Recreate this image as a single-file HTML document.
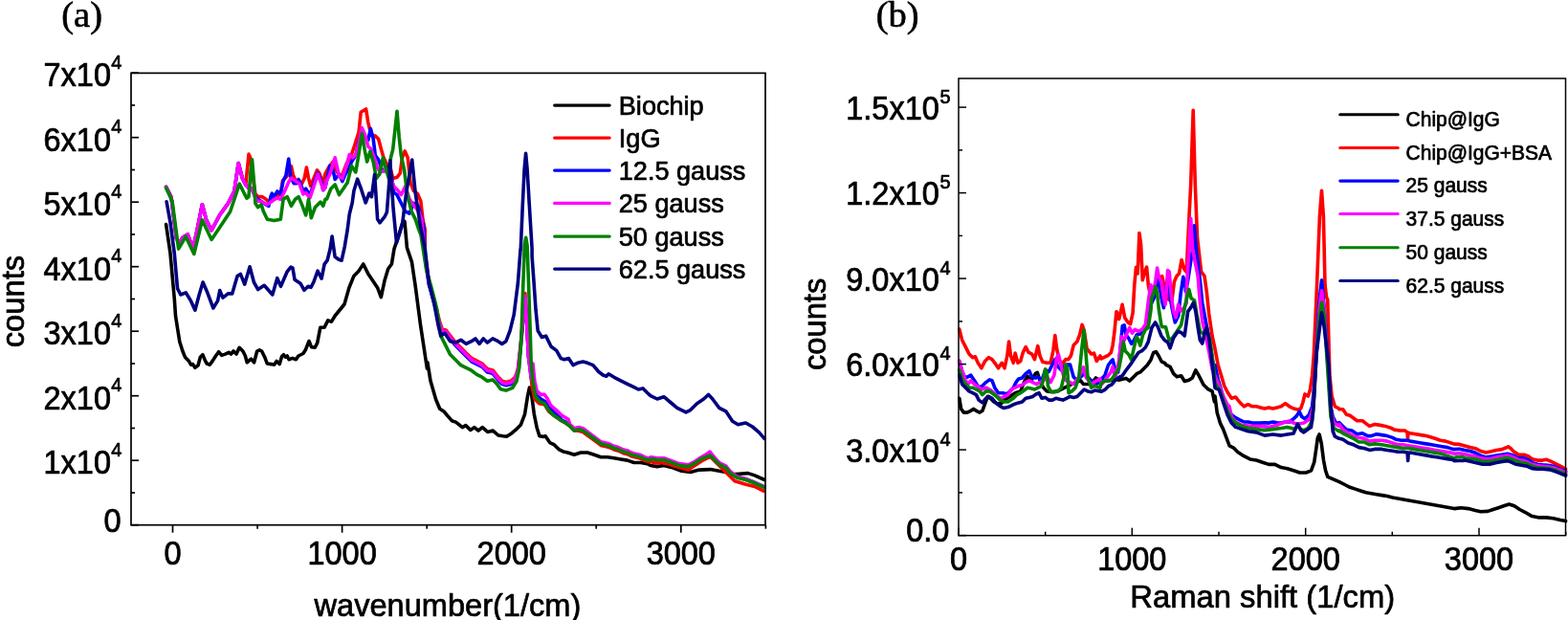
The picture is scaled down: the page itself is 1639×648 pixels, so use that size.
<!DOCTYPE html>
<html><head><meta charset="utf-8"><style>html,body{margin:0;padding:0;background:#fff;overflow:hidden}svg{display:block}</style></head>
<body><svg width="1639" height="648" viewBox="0 0 1639 648">
<rect width="1639" height="648" fill="#fff"/>
<polyline points="173.6,234.5 178.0,264.8 182.3,312.3 183.5,330.0 185.4,342.3 187.8,357.2 190.9,367.0 193.4,373.2 197.1,376.9 199.6,381.2 201.4,380.6 203.9,384.3 207.0,381.9 209.4,373.2 211.9,370.7 214.4,376.9 216.2,380.0 219.3,381.2 222.4,376.9 225.5,372.0 228.6,367.7 231.7,371.4 235.4,370.1 239.1,368.3 241.5,370.1 244.0,367.0 247.1,370.1 250.2,363.3 253.9,367.0 256.4,372.0 258.2,378.8 262.5,375.1 265.6,378.8 268.7,367.0 271.2,365.8 273.6,367.0 276.7,373.2 279.2,380.0 283.5,380.6 286.6,381.2 289.1,377.5 292.2,380.6 294.6,372.6 296.5,370.7 298.3,373.2 300.2,372.0 302.0,375.7 305.7,374.4 309.4,375.7 311.9,372.0 316.9,369.5 319.3,365.8 323.0,356.5 325.5,362.7 329.2,363.3 331.7,358.4 334.8,342.3 339.1,342.3 342.8,334.9 346.5,336.2 350.2,330.0 360.0,318.0 364.9,300.7 369.9,288.4 374.8,283.5 379.8,276.0 384.7,285.9 389.6,293.3 394.6,300.7 398.3,310.6 402.0,293.3 405.7,281.0 409.4,276.0 412.0,260.1 417.1,245.1 420.5,233.2 423.0,231.5 425.4,258.8 430.4,273.6 434.1,298.3 439.4,338.8 446.4,385.1 446.9,378.9 450.0,398.1 452.8,407.8 455.6,417.5 459.7,427.2 463.9,430.0 468.1,434.9 472.2,439.7 476.4,441.1 479.9,443.9 483.3,446.7 486.8,444.6 491.7,449.4 495.8,446.7 500.0,450.1 504.2,446.7 509.7,451.5 515.3,450.1 520.8,455.0 525.7,455.7 529.9,456.1 534.7,452.9 538.9,449.4 544.4,443.9 548.6,432.8 551.4,414.7 553.5,405.0 555.6,411.9 558.3,432.8 561.1,446.7 563.9,455.7 568.1,456.4 570.1,455.7 574.7,462.6 579.4,464.9 584.0,469.6 588.6,471.9 593.3,473.0 600.2,475.3 607.1,473.0 614.1,473.0 621.0,475.3 628.0,477.7 634.9,477.7 641.9,478.8 648.8,480.0 655.8,481.1 662.7,483.5 669.7,483.5 676.6,484.6 680.0,486.5 686.9,487.6 693.9,486.5 699.8,488.1 703.1,488.8 712.4,492.3 721.7,493.4 730.9,491.1 742.5,490.6 751.8,492.3 758.7,493.4 765.6,495.7 772.6,495.3 781.9,494.6 788.8,496.9 799.2,501.5" stroke="#000000" stroke-width="3.6" fill="none" stroke-linejoin="round" stroke-linecap="round"/>
<polyline points="173.6,195.3 179.0,206.1 184.4,249.3 187.7,253.6 190.9,248.3 196.3,245.0 201.7,260.1 206.0,240.7 211.4,213.7 215.7,229.9 221.1,240.7 229.8,224.5 238.4,212.6 244.9,199.7 249.2,170.5 253.5,186.7 256.8,193.2 260.0,161.1 260.0,161.9 261.4,163.9 264.2,184.7 266.9,202.8 269.7,205.6 273.9,205.6 278.1,208.3 280.8,211.1 285.0,206.9 289.2,205.6 293.3,202.8 295.4,188.9 298.2,186.1 301.7,181.9 304.4,173.6 306.5,183.3 308.6,187.5 311.4,190.3 315.6,191.7 318.3,186.1 320.4,175.0 322.5,186.1 324.6,194.4 328.1,186.1 331.5,177.8 334.3,181.9 337.1,191.7 339.9,181.9 343.8,174.5 348.1,169.1 352.4,179.9 356.7,185.3 362.1,171.3 366.4,164.8 370.7,151.8 375.1,137.8 377.2,117.3 382.6,114.0 384.8,128.1 388.0,141.0 392.3,142.1 395.6,145.3 398.8,157.2 401.0,164.8 404.2,171.3 407.5,173.4 410.7,186.4 415.0,185.3 418.3,181.0 420.4,164.8 423.2,157.9 426.2,164.8 429.0,190.7 432.3,199.3 436.6,202.6 439.8,210.1 442.0,229.6 444.2,239.9 444.2,266.1 448.3,293.9 453.9,313.3 459.4,335.6 462.2,343.9 466.4,345.3 470.6,350.8 476.1,357.8 481.7,363.3 487.2,368.9 492.8,374.4 498.3,377.2 503.9,380.0 509.4,385.6 515.0,386.9 520.6,393.9 524.7,398.1 528.9,399.4 534.4,398.1 538.6,393.9 541.4,385.6 544.2,360.6 546.4,335.6 548.3,307.8 548.9,306.7 550.6,337.2 552.5,373.3 553.8,380.0 556.1,403.1 558.9,417.0 563.5,421.7 569.1,422.6 573.7,430.0 579.3,434.6 584.8,438.3 586.3,439.5 590.9,441.8 595.6,445.2 600.2,449.9 604.8,450.3 609.5,451.5 614.1,455.0 618.7,458.4 623.4,461.9 628.0,465.4 632.6,466.6 637.2,467.7 641.9,470.0 646.5,471.2 651.1,473.5 655.8,474.7 660.4,477.0 665.0,478.1 669.7,479.3 674.3,481.6 678.9,482.8 680.0,481.9 683.6,483.9 688.2,483.9 691.6,483.0 692.8,483.9 699.8,485.1 703.1,486.5 719.4,491.1 733.2,481.9 742.5,477.2 749.4,484.2 761.0,495.7 768.0,502.7 779.5,506.2 788.8,508.5 798.1,513.1" stroke="#ff0000" stroke-width="3.6" fill="none" stroke-linejoin="round" stroke-linecap="round"/>
<polyline points="173.6,195.3 179.0,206.1 184.4,249.3 187.7,253.6 190.9,248.3 196.3,245.0 201.7,260.1 206.0,240.7 211.4,213.7 215.7,229.9 221.1,240.7 229.8,224.5 238.4,212.6 244.9,199.7 249.2,170.5 253.5,186.7 256.8,193.2 261.1,196.4 261.4,195.8 264.2,198.6 266.9,205.6 269.7,208.3 273.9,211.1 278.1,213.9 280.8,215.3 282.9,205.6 284.3,202.1 286.4,205.6 289.9,200.0 293.3,202.8 296.1,188.9 298.9,183.3 301.7,166.0 303.8,184.7 307.2,191.7 310.0,191.7 312.1,187.5 314.2,191.7 316.9,200.0 319.7,197.2 323.9,204.2 328.1,191.7 332.2,180.6 335.7,188.9 337.8,198.6 339.9,195.8 341.6,188.5 344.8,173.4 348.1,177.7 350.2,187.5 354.5,182.1 357.8,189.6 361.0,182.1 364.3,176.7 367.5,169.1 371.8,162.6 375.1,147.5 378.3,138.9 381.5,145.3 384.8,146.4 387.4,134.5 390.2,145.3 392.3,162.6 395.6,166.9 399.9,178.8 403.1,178.8 406.4,173.4 409.6,186.4 411.8,201.5 415.0,203.6 419.3,212.3 423.6,220.9 428.0,223.1 432.3,212.3 436.6,214.4 439.8,224.2 443.1,238.2 444.2,269.4 448.3,297.2 453.9,316.7 459.4,338.9 462.2,347.2 466.4,348.6 470.6,354.2 476.1,361.1 481.7,366.7 487.2,372.2 492.8,377.8 498.3,380.6 503.9,383.3 509.4,388.9 515.0,390.3 520.6,397.2 524.7,401.4 528.9,402.8 534.4,401.4 538.6,397.2 541.4,388.9 544.2,363.9 546.4,338.9 548.3,311.1 549.2,313.6 550.6,337.2 552.5,373.3 555.3,395.6 556.1,380.0 556.2,393.2 558.0,398.5 560.7,413.3 565.4,417.0 570.0,419.8 574.6,426.3 580.2,431.9 585.7,436.5 586.3,438.5 590.9,440.8 595.6,444.3 600.2,449.0 604.8,447.8 609.5,449.0 614.1,452.4 618.7,455.9 623.4,459.4 628.0,462.8 632.6,464.0 637.2,465.2 641.9,467.5 646.5,468.6 651.1,470.9 655.8,472.1 660.4,474.4 665.0,475.6 669.7,476.7 674.3,479.1 678.9,480.2 680.0,478.8 686.9,480.0 693.9,480.0 700.8,482.3 710.1,485.8 719.4,486.9 726.3,483.5 733.2,478.8 739.0,476.5 742.5,475.4 747.1,480.0 751.8,484.6 758.7,488.1 763.3,493.9 770.3,498.5 779.5,500.8 788.8,504.3 799.2,508.9" stroke="#0000ff" stroke-width="3.6" fill="none" stroke-linejoin="round" stroke-linecap="round"/>
<polyline points="173.6,195.3 179.0,206.1 184.4,249.3 187.7,253.6 190.9,248.3 196.3,245.0 201.7,260.1 206.0,240.7 211.4,213.7 215.7,229.9 221.1,240.7 229.8,224.5 238.4,212.6 244.9,199.7 249.2,170.5 253.5,186.7 256.8,193.2 261.1,198.6 261.4,195.8 264.2,200.0 268.3,209.7 273.9,211.1 279.4,213.9 285.0,209.7 289.2,206.9 293.3,208.3 297.5,200.0 301.7,190.3 304.4,186.1 308.6,188.9 312.8,191.7 316.9,202.8 319.7,201.4 323.9,206.9 328.1,194.4 332.2,181.9 335.7,191.7 337.8,198.6 339.9,195.8 341.6,188.5 344.8,182.1 350.2,164.8 354.5,184.2 357.8,186.4 362.1,173.4 365.3,161.5 368.6,164.8 371.8,162.6 375.1,149.7 378.3,133.5 381.5,141.0 384.8,152.9 388.0,156.1 391.3,164.8 394.5,175.6 397.7,179.9 403.1,177.7 408.5,186.4 411.8,195.0 416.1,199.3 419.3,203.6 423.6,195.0 428.0,208.0 432.3,214.4 437.7,220.9 440.9,229.6 444.2,267.8 448.3,295.6 453.9,315.0 459.4,337.2 462.2,345.6 466.4,346.9 470.6,352.5 476.1,359.4 481.7,365.0 487.2,370.6 492.8,376.1 498.3,378.9 503.9,381.7 509.4,387.2 515.0,388.6 520.6,395.6 524.7,399.7 528.9,401.1 534.4,399.7 538.6,395.6 541.4,387.2 544.2,362.2 546.4,337.2 548.3,309.4 549.2,312.2 550.6,337.2 552.5,373.3 555.3,395.6 556.2,393.2 557.0,380.0 558.9,398.5 561.2,408.7 565.4,412.4 569.1,412.4 571.9,416.1 575.6,423.5 582.0,429.1 586.7,433.7 594.1,438.3 595.6,443.2 600.2,447.8 604.8,446.6 609.5,447.8 614.1,451.3 618.7,454.7 623.4,458.2 628.0,461.7 632.6,462.8 637.2,464.0 641.9,466.3 646.5,467.5 651.1,469.8 655.8,470.9 660.4,473.3 665.0,474.4 669.7,475.6 674.3,477.9 678.9,479.1 680.0,477.7 686.9,478.8 693.9,478.8 700.8,481.2 710.1,484.6 719.4,485.8 726.3,482.3 733.2,477.7 739.0,474.4 742.0,472.1 747.1,478.4 751.8,483.5 758.7,486.9 763.3,492.7 770.3,498.1 779.5,500.4 788.8,504.3 799.2,509.2" stroke="#ff00ff" stroke-width="3.6" fill="none" stroke-linejoin="round" stroke-linecap="round"/>
<polyline points="173.6,196.4 180.1,210.5 186.6,260.1 194.2,247.2 202.8,265.5 211.4,229.9 221.1,250.4 229.8,237.5 240.6,221.3 250.3,192.1 257.9,207.2 260.0,205.6 262.1,177.8 263.5,166.7 265.6,191.7 266.9,212.5 269.7,216.7 273.2,213.9 275.3,220.8 279.4,229.2 286.4,230.6 293.3,229.2 296.1,208.3 300.3,205.6 304.4,215.3 308.6,208.3 312.1,205.6 315.6,213.9 319.7,225.0 322.5,208.3 325.3,227.8 329.4,216.7 335.0,211.1 337.8,215.3 340.0,208.3 341.6,208.0 345.9,197.2 350.2,192.9 354.5,203.6 358.9,197.2 363.2,190.7 367.5,173.4 371.8,179.9 375.1,160.5 378.3,139.9 381.5,158.3 383.7,169.1 386.9,158.3 390.2,169.1 393.4,186.4 396.7,182.1 400.3,164.8 403.1,175.6 406.4,186.4 408.5,164.8 410.7,156.1 415.0,116.2 417.2,143.2 419.3,162.6 422.6,177.7 425.8,203.6 430.1,220.9 434.4,229.6 437.7,239.9 440.0,245.6 445.6,281.7 451.1,301.1 456.7,323.3 460.8,351.1 465.0,359.4 470.6,370.6 476.1,376.1 481.7,381.7 487.2,384.4 492.8,387.2 498.3,391.4 503.9,394.2 509.4,398.3 515.0,396.9 519.2,401.1 523.3,406.7 528.9,408.1 535.8,405.3 540.0,398.3 542.8,384.4 545.0,351.1 546.9,295.6 548.3,256.7 549.7,248.3 551.1,256.7 552.5,295.6 554.4,351.1 555.2,380.0 557.0,398.5 559.8,414.3 564.4,419.8 569.1,421.7 573.7,429.1 578.3,433.7 583.9,437.4 586.3,439.5 590.9,441.8 595.6,445.2 600.2,449.9 604.8,448.7 609.5,449.9 614.1,453.4 618.7,456.8 623.4,460.3 628.0,463.8 632.6,464.9 637.2,466.1 641.9,468.4 646.5,469.6 651.1,471.9 655.8,473.0 660.4,475.3 665.0,476.5 669.7,477.7 674.3,480.0 678.9,481.1 680.0,479.5 686.9,480.7 693.9,480.7 700.8,483.0 710.1,486.5 719.4,487.6 726.3,484.2 733.2,479.5 739.0,477.2 742.5,476.1 747.1,480.7 751.8,485.3 758.7,488.8 763.3,494.6 770.3,499.2 779.5,501.5 788.8,505.0 799.2,509.6" stroke="#008000" stroke-width="3.6" fill="none" stroke-linejoin="round" stroke-linecap="round"/>
<polyline points="174.1,210.8 178.0,232.4 182.3,264.8 185.5,301.5 188.8,308.0 194.2,305.8 199.5,314.4 203.9,324.2 208.2,308.0 212.1,295.0 216.8,305.8 222.9,322.0 227.6,314.4 229.8,303.6 233.0,311.2 238.4,306.9 242.7,306.9 248.1,288.5 251.4,286.4 255.7,297.2 261.1,278.8 265.4,295.0 269.7,302.6 276.2,298.3 284.8,308.0 289.8,290.7 293.5,299.3 300.0,284.2 300.0,284.2 304.0,279.2 306.0,280.2 308.0,292.2 311.0,294.2 314.0,296.2 318.0,303.3 322.1,299.2 325.1,300.3 328.1,294.2 332.1,283.2 336.1,291.2 339.1,276.2 342.1,272.2 345.1,260.2 347.1,247.1 350.1,268.2 354.1,271.2 357.1,272.2 360.2,258.1 363.2,240.1 365.2,224.1 368.2,212.0 369.9,199.5 373.6,187.2 377.3,197.0 382.2,211.9 385.9,202.0 388.4,205.7 391.6,182.2 394.6,229.1 397.0,232.8 402.0,226.7 404.4,221.7 406.9,189.6 407.7,167.8 411.1,218.0 414.5,253.6 420.5,234.9 424.7,201.0 430.7,167.0 434.1,201.0 439.2,234.9 444.3,260.1 448.3,295.6 453.9,317.8 458.1,340.0 460.8,351.1 465.0,348.3 470.6,356.7 476.1,358.1 481.7,355.3 487.2,359.4 492.8,356.7 496.9,353.9 501.1,359.4 505.3,353.9 509.4,358.1 515.0,353.9 520.6,356.7 524.7,359.4 528.9,356.7 533.1,345.6 537.2,328.9 541.4,295.6 544.1,260.0 544.2,262.2 546.3,214.1 548.1,177.0 549.6,160.4 551.1,177.0 553.3,214.1 556.1,260.0 556.1,267.8 558.1,295.6 560.0,323.3 562.2,345.6 566.4,352.5 570.6,351.1 576.1,362.2 581.7,366.4 586.3,374.6 589.8,375.8 594.4,374.6 599.0,381.6 603.7,379.3 609.5,378.1 614.1,379.3 619.9,381.6 625.7,388.5 630.3,392.0 633.8,393.2 636.1,390.8 641.9,394.3 648.8,397.8 655.8,401.3 662.7,404.7 667.3,407.0 672.0,405.9 676.6,410.5 680.0,413.6 686.9,417.0 693.9,414.7 700.8,420.5 707.8,426.3 717.0,430.9 721.7,428.6 728.6,421.7 735.6,417.0 740.6,412.4 744.8,417.0 751.8,426.3 758.7,429.8 765.6,440.2 771.4,443.7 779.5,442.0 786.5,446.0 793.4,451.8 799.2,458.7" stroke="#000080" stroke-width="3.6" fill="none" stroke-linejoin="round" stroke-linecap="round"/>
<polyline points="1002.8,416.3 1004.6,427.4 1007.4,431.1 1011.1,431.1 1014.8,429.3 1017.6,427.4 1020.4,429.3 1024.1,431.1 1026.9,429.3 1029.6,421.9 1032.4,414.4 1035.2,416.3 1038.9,420.0 1042.6,421.9 1046.3,421.9 1050.0,418.1 1055.6,414.4 1061.1,410.7 1066.7,408.9 1070.4,399.6 1074.1,393.1 1077.8,397.8 1082.4,390.4 1084.3,389.4 1087.0,397.8 1090.7,405.2 1094.4,408.9 1100.0,409.8 1105.6,408.9 1109.3,407.0 1113.0,405.2 1116.7,403.3 1120.4,401.5 1124.1,399.6 1129.6,397.8 1132.4,401.5 1135.2,401.5 1140.7,401.5 1145.4,395.0 1150.0,397.8 1151.1,398.1 1154.8,397.2 1158.5,398.1 1162.2,397.2 1165.9,396.3 1169.6,397.2 1173.3,396.3 1177.0,395.4 1180.7,398.1 1184.4,394.4 1188.1,390.7 1191.9,388.9 1195.6,385.2 1199.3,381.5 1203.0,375.9 1205.7,368.5 1208.5,367.6 1211.3,372.2 1214.1,377.8 1217.8,379.6 1218.5,381.1 1223.1,383.4 1226.6,390.4 1230.1,393.8 1234.7,392.7 1238.2,398.5 1242.8,397.3 1246.3,395.0 1249.8,386.9 1253.2,392.7 1257.9,401.9 1262.5,406.6 1267.1,408.9 1269.4,420.0 1270.0,414.0 1272.2,431.3 1275.4,442.1 1278.6,448.6 1281.9,457.3 1285.1,465.9 1289.5,468.1 1293.8,472.4 1300.3,476.7 1306.7,479.9 1313.2,481.0 1319.7,483.2 1326.2,485.4 1332.7,485.4 1339.2,488.6 1345.6,489.7 1352.1,491.8 1358.6,494.0 1365.1,494.0 1370.5,491.8 1373.7,483.2 1375.9,468.1 1377.4,457.3 1379.1,454.0 1381.3,463.7 1383.5,481.0 1385.6,491.8 1387.8,498.3 1400.0,503.7 1405.6,506.5 1411.1,509.3 1416.7,511.1 1422.2,513.0 1427.8,514.8 1433.3,515.7 1438.9,516.7 1444.4,517.6 1450.0,518.5 1455.6,520.0 1520.0,531.6 1527.4,530.7 1534.8,531.6 1542.2,533.5 1547.8,534.8 1555.2,534.4 1560.7,532.5 1566.3,530.7 1571.8,528.8 1577.4,527.0 1582.9,528.8 1588.5,532.5 1594.0,535.3 1601.4,539.6 1608.8,540.9 1616.2,540.9 1623.6,541.8 1631.0,543.6 1636.6,544.6" stroke="#000000" stroke-width="3.6" fill="none" stroke-linejoin="round" stroke-linecap="round"/>
<polyline points="1002.8,344.1 1005.6,355.2 1009.3,362.6 1013.0,370.0 1016.7,373.7 1019.4,372.8 1022.2,379.3 1025.9,384.8 1029.6,377.4 1033.3,373.7 1037.0,375.6 1039.8,379.3 1043.5,384.8 1047.2,379.3 1050.0,384.8 1052.8,371.9 1054.6,357.0 1056.5,371.9 1059.3,379.3 1061.1,369.1 1063.9,379.3 1066.7,377.4 1069.4,368.1 1072.2,362.6 1075.0,368.1 1078.7,370.0 1081.5,375.6 1084.8,361.7 1087.0,371.9 1089.8,378.3 1094.4,379.3 1098.1,379.3 1100.9,366.3 1102.8,350.6 1104.6,364.4 1107.4,377.4 1111.1,379.3 1113.9,375.6 1116.7,375.6 1119.4,371.9 1122.2,360.7 1125.9,357.0 1128.7,349.6 1131.1,339.4 1133.3,345.9 1136.1,364.4 1140.7,370.0 1143.5,369.1 1146.3,377.4 1150.0,371.9 1151.1,375.0 1154.8,373.1 1158.5,371.3 1161.3,368.5 1163.1,361.1 1165.0,346.3 1166.9,325.9 1167.2,325.9 1169.7,333.6 1173.1,318.3 1175.7,331.9 1179.0,337.0 1181.6,338.7 1184.1,326.8 1185.8,297.9 1187.5,279.2 1189.2,286.0 1190.9,243.6 1192.6,255.5 1194.3,292.8 1196.0,286.0 1198.6,279.2 1200.3,297.9 1202.0,306.4 1204.5,314.9 1207.9,304.7 1211.3,294.5 1214.7,288.6 1218.1,303.0 1221.5,313.2 1224.9,314.9 1227.4,294.5 1230.0,288.6 1232.5,286.0 1235.1,271.6 1237.6,280.9 1240.2,284.3 1241.6,254.4 1244.7,192.7 1247.2,115.4 1249.3,192.7 1251.5,248.3 1255.6,283.9 1259.0,288.5 1261.3,304.7 1263.7,327.9 1267.1,351.0 1270.0,364.3 1273.2,381.6 1276.5,392.4 1279.7,403.2 1283.0,409.7 1287.3,416.2 1291.6,415.1 1295.9,420.5 1300.3,424.8 1304.6,422.7 1308.9,424.8 1313.2,424.8 1317.5,425.9 1321.9,427.0 1326.2,425.9 1330.5,427.0 1334.8,425.9 1339.2,424.8 1343.5,421.6 1347.8,424.8 1352.1,427.0 1356.4,428.1 1359.7,427.0 1361.9,420.5 1364.0,411.9 1367.3,414.0 1369.4,407.5 1371.6,392.4 1373.3,370.8 1376.3,303.7 1379.4,226.4 1381.5,199.2 1383.4,226.4 1385.0,297.5 1386.5,310.5 1387.7,313.0 1389.9,392.4 1392.1,414.0 1395.4,424.8 1399.7,427.0 1400.0,427.8 1403.7,427.8 1407.4,433.3 1411.1,434.3 1414.8,437.0 1418.5,439.8 1424.1,439.8 1427.8,442.6 1431.5,445.4 1437.0,443.5 1442.6,444.4 1448.1,445.4 1453.7,447.2 1457.4,449.1 1463.0,450.0 1468.5,450.0 1471.1,451.9 1471.5,458.9 1471.9,452.2 1474.1,452.8 1479.6,453.7 1485.2,454.6 1490.7,455.6 1494.4,456.5 1500.0,458.3 1505.6,460.2 1511.1,461.1 1516.7,463.0 1520.0,464.1 1525.6,464.4 1531.1,465.9 1536.7,467.4 1542.2,468.7 1547.8,471.5 1553.3,472.9 1558.9,471.8 1564.4,470.5 1570.0,469.6 1574.6,467.8 1576.5,466.8 1579.2,468.7 1582.9,472.4 1587.6,475.2 1593.1,475.2 1597.7,477.0 1601.4,479.8 1607.0,481.1 1612.5,481.1 1616.2,480.3 1619.9,481.6 1625.5,484.4 1631.0,487.2 1636.6,490.0" stroke="#ff0000" stroke-width="3.6" fill="none" stroke-linejoin="round" stroke-linecap="round"/>
<polyline points="1002.8,377.4 1005.6,388.5 1008.3,394.1 1011.1,394.1 1014.8,392.2 1018.5,397.8 1023.1,405.2 1026.9,403.3 1030.6,399.6 1034.3,396.9 1037.0,397.8 1039.8,405.2 1043.5,410.7 1048.1,410.7 1052.8,411.7 1055.6,408.9 1059.3,405.2 1062.0,399.6 1064.8,395.9 1068.5,395.0 1072.2,390.4 1075.9,387.6 1078.7,394.1 1082.4,395.0 1085.2,394.1 1088.9,397.8 1092.6,386.7 1096.3,388.5 1100.0,381.1 1102.8,375.6 1105.6,383.0 1109.3,386.7 1112.0,383.0 1114.8,381.1 1118.5,381.1 1122.2,394.1 1125.9,397.8 1129.6,394.1 1133.3,390.4 1137.0,394.1 1140.7,397.8 1144.4,401.5 1150.0,399.6 1151.1,396.3 1154.8,392.6 1158.5,381.5 1161.3,377.8 1163.1,375.9 1165.9,387.0 1168.7,388.9 1171.5,359.3 1173.3,340.7 1175.2,339.8 1177.0,350.0 1179.8,353.7 1182.6,359.3 1185.4,355.6 1188.1,350.0 1191.9,349.1 1195.6,344.4 1199.3,337.0 1203.0,318.5 1204.5,314.9 1207.1,309.8 1209.6,284.3 1211.3,294.5 1214.7,314.9 1216.4,321.7 1219.8,294.5 1221.5,289.4 1223.2,311.5 1225.7,325.1 1228.3,337.0 1231.7,330.2 1234.2,306.4 1236.8,289.4 1239.3,301.3 1239.4,304.7 1241.7,293.1 1246.6,260.6 1248.4,235.9 1250.3,260.6 1254.4,293.1 1256.7,316.3 1260.2,334.8 1263.7,353.3 1267.1,374.2 1269.4,390.4 1270.0,381.6 1273.2,396.7 1276.5,407.5 1279.7,418.4 1283.0,427.0 1287.3,433.5 1291.6,436.7 1295.9,438.9 1300.3,441.0 1304.6,441.0 1308.9,442.1 1313.2,442.1 1317.5,442.1 1321.9,441.7 1326.2,442.1 1330.5,441.0 1334.8,441.7 1339.2,442.1 1343.5,441.0 1347.8,441.0 1352.1,437.8 1355.4,434.6 1358.2,430.2 1360.8,435.6 1364.0,437.8 1368.3,433.5 1371.6,424.8 1373.7,403.2 1375.9,370.8 1378.5,319.2 1381.5,292.9 1384.0,319.2 1389.3,392.4 1391.0,424.8 1393.2,435.6 1396.4,442.1 1399.7,442.1 1400.0,441.7 1403.7,445.4 1407.4,449.1 1413.0,450.0 1418.5,453.7 1424.1,452.8 1429.6,455.6 1433.3,455.6 1438.9,453.7 1444.4,454.6 1450.0,455.6 1455.6,457.4 1459.3,459.3 1464.8,460.2 1470.4,460.2 1474.1,461.1 1479.6,462.0 1485.2,463.0 1490.7,463.9 1496.3,464.8 1501.9,465.7 1507.4,466.7 1513.0,467.6 1518.5,469.4 1520.0,469.6 1525.6,469.2 1531.1,470.5 1536.7,471.5 1542.2,473.3 1547.8,476.1 1553.3,477.9 1558.9,477.0 1564.4,476.1 1570.0,475.2 1575.5,474.2 1579.2,475.2 1583.9,477.0 1587.6,478.9 1593.1,478.9 1597.7,480.7 1601.4,483.5 1607.0,485.3 1612.5,485.9 1618.1,486.3 1623.6,487.2 1629.2,489.6 1636.6,492.7" stroke="#0000ff" stroke-width="3.6" fill="none" stroke-linejoin="round" stroke-linecap="round"/>
<polyline points="1002.8,377.4 1005.6,386.7 1009.3,397.8 1012.0,401.5 1014.8,397.8 1018.5,401.5 1022.2,404.3 1025.9,407.0 1030.6,405.2 1034.3,407.0 1038.9,410.7 1042.6,414.4 1046.3,416.3 1050.0,414.4 1053.7,412.6 1057.4,407.0 1061.1,405.2 1064.8,403.3 1068.5,402.4 1072.2,399.6 1075.9,397.8 1079.6,399.6 1083.3,401.5 1087.0,399.6 1090.7,397.8 1094.4,394.1 1098.1,399.6 1101.9,392.2 1104.6,373.7 1106.5,370.9 1109.3,383.0 1112.0,394.1 1114.8,397.8 1118.5,399.6 1122.2,401.5 1127.8,394.1 1132.4,383.9 1135.2,394.1 1140.7,401.5 1146.3,397.8 1150.0,395.9 1151.1,401.9 1154.8,398.1 1158.5,392.6 1161.3,388.9 1163.1,383.3 1165.9,394.4 1169.6,377.8 1172.4,351.9 1175.2,355.6 1178.0,348.1 1180.7,342.6 1183.5,348.1 1186.3,344.4 1190.0,346.3 1193.7,344.4 1197.4,338.9 1200.3,314.9 1202.8,297.9 1205.4,306.4 1207.9,292.8 1209.6,280.1 1211.3,289.4 1213.9,294.5 1216.4,311.5 1218.1,318.3 1220.6,282.6 1222.3,284.3 1224.0,306.4 1226.6,325.1 1229.1,331.9 1231.7,318.3 1234.2,325.1 1237.6,321.7 1240.2,316.6 1240.5,297.8 1242.9,260.6 1244.7,228.2 1246.6,260.6 1252.1,288.5 1254.4,316.3 1256.7,334.8 1260.2,351.0 1263.7,367.2 1267.1,385.7 1270.0,392.4 1274.3,403.2 1278.6,414.0 1283.0,422.7 1285.1,424.8 1287.3,435.6 1291.6,441.0 1298.1,444.3 1306.7,445.4 1317.5,445.4 1326.2,446.4 1334.8,444.3 1343.5,441.0 1347.8,440.0 1352.1,442.1 1356.4,443.2 1362.9,442.1 1369.4,437.8 1372.7,424.8 1374.8,392.4 1379.1,322.3 1381.5,303.7 1384.0,322.3 1391.0,429.2 1394.3,442.1 1399.7,445.4 1400.0,443.5 1403.7,449.1 1409.3,452.8 1414.8,455.6 1420.4,457.4 1425.9,458.3 1431.5,461.1 1437.0,460.2 1444.4,460.2 1450.0,461.1 1455.6,463.0 1461.1,464.8 1466.7,464.8 1472.2,465.7 1477.8,466.7 1483.3,467.6 1488.9,468.5 1494.4,469.4 1500.0,470.4 1505.6,471.3 1511.1,472.2 1516.7,473.1 1520.0,474.2 1525.6,473.7 1531.1,474.8 1536.7,476.1 1542.2,477.0 1547.8,478.9 1553.3,479.8 1558.9,479.2 1564.4,477.9 1570.0,477.0 1575.5,476.1 1579.2,477.0 1583.9,478.9 1587.6,480.7 1593.1,481.6 1597.7,483.5 1601.4,485.3 1607.0,486.6 1612.5,487.2 1618.1,487.8 1623.6,488.7 1629.2,490.9 1636.6,493.7" stroke="#ff00ff" stroke-width="3.6" fill="none" stroke-linejoin="round" stroke-linecap="round"/>
<polyline points="1002.8,386.7 1005.6,395.9 1009.3,401.5 1013.0,405.2 1016.7,405.2 1020.4,407.0 1024.1,408.9 1026.9,412.6 1030.6,408.9 1034.3,408.9 1037.0,410.7 1040.7,413.5 1045.4,418.1 1050.0,420.0 1053.7,420.0 1059.3,416.3 1063.0,412.6 1066.7,410.7 1070.4,408.0 1074.1,405.2 1077.8,406.1 1081.5,407.0 1085.2,405.2 1088.9,403.3 1091.1,394.1 1092.6,385.7 1094.4,390.4 1095.4,403.3 1098.1,408.9 1101.9,409.8 1105.6,408.9 1109.3,405.2 1112.0,394.1 1113.9,381.1 1115.7,384.8 1117.0,410.7 1120.4,408.9 1124.1,405.2 1127.8,394.1 1130.6,366.3 1133.0,345.0 1134.8,366.3 1137.0,394.1 1140.7,405.2 1144.4,403.3 1150.0,405.2 1151.1,400.0 1154.8,398.1 1158.5,398.1 1162.2,396.3 1165.9,390.7 1169.6,385.2 1172.4,370.4 1174.3,357.4 1176.1,366.7 1179.8,370.4 1182.6,375.9 1185.4,363.0 1188.1,351.9 1190.0,355.6 1191.9,361.1 1194.6,350.0 1197.4,344.4 1200.2,342.6 1203.0,324.1 1203.7,311.5 1205.4,308.1 1207.9,299.6 1209.6,306.4 1211.3,323.4 1213.9,340.0 1215.0,341.8 1218.5,341.8 1222.0,355.6 1225.5,353.3 1230.1,346.4 1234.7,339.4 1239.4,316.3 1242.8,302.4 1245.1,311.7 1248.6,314.0 1250.9,327.9 1254.4,346.4 1257.9,348.7 1261.3,344.1 1264.8,355.6 1267.1,371.9 1269.4,392.7 1270.0,401.1 1274.3,406.5 1278.6,418.4 1283.0,429.2 1287.3,437.8 1291.6,442.1 1298.1,445.4 1304.6,447.5 1313.2,448.6 1321.9,449.7 1330.5,448.6 1339.2,447.5 1345.6,446.4 1350.0,447.5 1353.2,448.6 1356.4,444.3 1359.7,448.6 1362.9,449.7 1367.3,447.5 1371.6,440.0 1373.7,414.0 1375.9,370.8 1379.4,328.5 1381.5,316.1 1384.0,328.5 1391.0,435.6 1394.3,447.5 1399.7,450.8 1400.0,450.0 1403.7,452.8 1409.3,455.6 1414.8,458.3 1420.4,462.0 1425.9,462.0 1431.5,464.8 1437.0,463.9 1444.4,464.8 1450.0,465.7 1455.6,466.7 1461.1,467.6 1466.7,468.5 1472.2,468.5 1477.8,469.4 1483.3,470.4 1488.9,471.3 1494.4,472.2 1500.0,473.1 1505.6,474.1 1511.1,475.9 1516.7,477.8 1520.0,478.9 1522.2,477.8 1529.6,477.8 1531.1,478.9 1542.2,479.8 1549.6,482.2 1557.0,482.2 1564.4,480.7 1571.8,479.2 1575.5,478.5 1579.2,479.8 1584.8,481.6 1590.3,483.5 1595.9,484.4 1601.4,487.2 1607.0,488.5 1612.5,489.0 1619.9,489.6 1627.3,491.8 1636.6,495.5" stroke="#008000" stroke-width="3.6" fill="none" stroke-linejoin="round" stroke-linecap="round"/>
<polyline points="1002.8,392.2 1005.6,401.5 1009.3,405.2 1013.0,408.9 1016.7,410.7 1020.4,412.6 1023.1,418.1 1026.9,420.9 1030.6,416.3 1033.3,414.4 1037.0,416.3 1040.7,420.9 1045.4,424.6 1049.1,426.5 1053.7,425.6 1059.3,422.8 1064.8,420.9 1068.5,420.0 1072.2,416.3 1075.9,415.4 1079.6,414.4 1083.3,411.7 1086.1,410.7 1088.9,416.3 1092.6,415.4 1096.3,418.1 1100.0,418.1 1103.7,416.3 1107.4,417.2 1111.1,418.1 1114.8,416.3 1118.5,414.4 1122.2,415.4 1125.9,414.4 1129.6,410.7 1133.3,407.0 1137.0,408.9 1140.7,409.8 1144.4,408.0 1150.0,408.9 1151.1,409.3 1154.8,407.4 1158.5,403.7 1162.2,401.9 1165.9,397.2 1169.6,394.4 1173.3,392.6 1177.0,387.0 1179.8,383.3 1182.6,379.6 1186.3,374.1 1190.0,368.5 1193.7,366.7 1197.4,363.0 1200.2,357.4 1203.9,342.6 1207.6,337.0 1210.4,341.8 1213.9,351.0 1217.4,355.6 1220.8,358.0 1223.1,363.8 1226.6,353.3 1231.2,346.4 1234.7,347.5 1238.2,351.0 1241.7,325.6 1245.1,320.9 1247.5,316.3 1249.8,325.6 1252.1,341.8 1254.4,355.6 1256.7,359.1 1259.0,348.7 1261.3,341.8 1263.7,353.3 1266.0,371.9 1268.3,390.4 1270.0,405.4 1274.3,407.5 1278.6,420.5 1283.0,433.5 1287.3,442.1 1291.6,446.4 1298.1,448.6 1304.6,450.8 1313.2,451.9 1321.9,455.1 1330.5,454.0 1339.2,455.1 1345.6,454.0 1352.1,452.9 1356.4,443.2 1359.7,449.7 1362.9,451.9 1367.3,448.6 1370.5,446.4 1372.7,429.2 1374.8,392.4 1375.9,370.8 1379.7,340.8 1381.5,326.9 1384.0,340.8 1388.9,381.6 1391.0,424.8 1393.2,450.8 1395.4,456.2 1399.7,458.3 1400.0,458.3 1403.7,459.3 1409.3,463.0 1414.8,464.8 1420.4,467.6 1425.9,468.5 1431.5,470.4 1437.0,469.4 1444.4,469.4 1450.0,470.4 1455.6,471.3 1461.1,472.2 1466.7,472.2 1471.1,473.1 1471.7,481.5 1472.2,473.3 1474.1,473.1 1479.6,474.1 1485.2,475.0 1490.7,475.9 1496.3,476.9 1501.9,477.8 1507.4,478.7 1513.0,479.6 1518.5,480.6 1520.0,481.6 1524.1,481.5 1529.6,481.5 1531.1,481.1 1542.2,483.5 1549.6,485.3 1557.0,485.3 1564.4,483.5 1571.8,482.2 1575.5,481.6 1579.2,482.9 1584.8,485.3 1590.3,486.3 1595.9,487.2 1601.4,489.6 1607.0,490.3 1612.5,490.3 1619.9,490.9 1627.3,493.3 1636.6,497.0" stroke="#000080" stroke-width="3.6" fill="none" stroke-linejoin="round" stroke-linecap="round"/>
<g stroke="#000" stroke-width="1.7" fill="none">
<rect x="137.0" y="76.4" width="663.0" height="472.30000000000007"/>
<line x1="137.0" y1="548.7" x2="145.0" y2="548.7"/>
<line x1="137.0" y1="515.0" x2="141.0" y2="515.0"/>
<line x1="137.0" y1="481.2" x2="145.0" y2="481.2"/>
<line x1="137.0" y1="447.5" x2="141.0" y2="447.5"/>
<line x1="137.0" y1="413.7" x2="145.0" y2="413.7"/>
<line x1="137.0" y1="380.0" x2="141.0" y2="380.0"/>
<line x1="137.0" y1="346.2" x2="145.0" y2="346.2"/>
<line x1="137.0" y1="312.5" x2="141.0" y2="312.5"/>
<line x1="137.0" y1="278.7" x2="145.0" y2="278.7"/>
<line x1="137.0" y1="245.0" x2="141.0" y2="245.0"/>
<line x1="137.0" y1="211.2" x2="145.0" y2="211.2"/>
<line x1="137.0" y1="177.5" x2="141.0" y2="177.5"/>
<line x1="137.0" y1="143.7" x2="145.0" y2="143.7"/>
<line x1="137.0" y1="110.0" x2="141.0" y2="110.0"/>
<line x1="137.0" y1="76.2" x2="145.0" y2="76.2"/>
<line x1="180.5" y1="548.7" x2="180.5" y2="556.7"/>
<line x1="269.1" y1="548.7" x2="269.1" y2="552.7"/>
<line x1="357.6" y1="548.7" x2="357.6" y2="556.7"/>
<line x1="446.2" y1="548.7" x2="446.2" y2="552.7"/>
<line x1="534.7" y1="548.7" x2="534.7" y2="556.7"/>
<line x1="623.2" y1="548.7" x2="623.2" y2="552.7"/>
<line x1="711.8" y1="548.7" x2="711.8" y2="556.7"/>
<line x1="800.4" y1="548.7" x2="800.4" y2="552.7"/>
</g>
<g font-family="Liberation Sans, Arial, Helvetica, sans-serif" stroke="#000" stroke-width="0.7" stroke-linejoin="round" fill="#000">
<text transform="translate(116.0,495.2) scale(1,1.07)" font-size="32.5" text-anchor="end" >1x10</text>
<text transform="translate(116.2,476.7) scale(1,1.03)" font-size="20" text-anchor="start" >4</text>
<text transform="translate(116.0,427.7) scale(1,1.07)" font-size="32.5" text-anchor="end" >2x10</text>
<text transform="translate(116.2,409.2) scale(1,1.03)" font-size="20" text-anchor="start" >4</text>
<text transform="translate(116.0,360.2) scale(1,1.07)" font-size="32.5" text-anchor="end" >3x10</text>
<text transform="translate(116.2,341.7) scale(1,1.03)" font-size="20" text-anchor="start" >4</text>
<text transform="translate(116.0,292.7) scale(1,1.07)" font-size="32.5" text-anchor="end" >4x10</text>
<text transform="translate(116.2,274.2) scale(1,1.03)" font-size="20" text-anchor="start" >4</text>
<text transform="translate(116.0,225.2) scale(1,1.07)" font-size="32.5" text-anchor="end" >5x10</text>
<text transform="translate(116.2,206.7) scale(1,1.03)" font-size="20" text-anchor="start" >4</text>
<text transform="translate(116.0,157.7) scale(1,1.07)" font-size="32.5" text-anchor="end" >6x10</text>
<text transform="translate(116.2,139.2) scale(1,1.03)" font-size="20" text-anchor="start" >4</text>
<text transform="translate(116.0,90.2) scale(1,1.07)" font-size="32.5" text-anchor="end" >7x10</text>
<text transform="translate(116.2,71.7) scale(1,1.03)" font-size="20" text-anchor="start" >4</text>
<text transform="translate(126.5,555.8) scale(1,1.07)" font-size="32.5" text-anchor="end" >0</text>
<text transform="translate(180.5,589.7) scale(1,1.07)" font-size="32.5" text-anchor="middle" >0</text>
<text transform="translate(357.6,589.7) scale(1,1.07)" font-size="32.5" text-anchor="middle" >1000</text>
<text transform="translate(534.7,589.7) scale(1,1.07)" font-size="32.5" text-anchor="middle" >2000</text>
<text transform="translate(711.8,589.7) scale(1,1.07)" font-size="32.5" text-anchor="middle" >3000</text>
<text transform="translate(467.9,643.7) scale(1,1.035)" font-size="32.6" text-anchor="middle" >wavenumber(1/cm)</text>
<text transform="translate(25.3,315.1) rotate(-90) scale(1,1.03)" font-size="32.7" text-anchor="middle">counts</text>
</g>
<line x1="579.6" y1="110.1" x2="637.2" y2="110.1" stroke="#000" stroke-width="3.1" stroke-linecap="round"/>
<g font-family="Liberation Sans, Arial, Helvetica, sans-serif" stroke="#000" stroke-width="0.7" stroke-linejoin="round"><text transform="translate(646.8,120.1) scale(1,1.03)" font-size="27.1" text-anchor="start" >Biochip</text></g>
<line x1="579.6" y1="144.1" x2="637.2" y2="144.1" stroke="#f00" stroke-width="3.1" stroke-linecap="round"/>
<g font-family="Liberation Sans, Arial, Helvetica, sans-serif" stroke="#000" stroke-width="0.7" stroke-linejoin="round"><text transform="translate(646.8,154.1) scale(1,1.03)" font-size="27.1" text-anchor="start" >IgG</text></g>
<line x1="579.6" y1="178.1" x2="637.2" y2="178.1" stroke="#00f" stroke-width="3.1" stroke-linecap="round"/>
<g font-family="Liberation Sans, Arial, Helvetica, sans-serif" stroke="#000" stroke-width="0.7" stroke-linejoin="round"><text transform="translate(646.8,188.1) scale(1,1.03)" font-size="27.1" text-anchor="start" >12.5 gauss</text></g>
<line x1="579.6" y1="212.4" x2="637.2" y2="212.4" stroke="#f0f" stroke-width="3.1" stroke-linecap="round"/>
<g font-family="Liberation Sans, Arial, Helvetica, sans-serif" stroke="#000" stroke-width="0.7" stroke-linejoin="round"><text transform="translate(646.8,222.4) scale(1,1.03)" font-size="27.1" text-anchor="start" >25 gauss</text></g>
<line x1="579.6" y1="247.1" x2="637.2" y2="247.1" stroke="#008000" stroke-width="3.1" stroke-linecap="round"/>
<g font-family="Liberation Sans, Arial, Helvetica, sans-serif" stroke="#000" stroke-width="0.7" stroke-linejoin="round"><text transform="translate(646.8,257.1) scale(1,1.03)" font-size="27.1" text-anchor="start" >50 gauss</text></g>
<line x1="579.6" y1="281.1" x2="637.2" y2="281.1" stroke="#000080" stroke-width="3.1" stroke-linecap="round"/>
<g font-family="Liberation Sans, Arial, Helvetica, sans-serif" stroke="#000" stroke-width="0.7" stroke-linejoin="round"><text transform="translate(646.8,291.1) scale(1,1.03)" font-size="27.1" text-anchor="start" >62.5 gauss</text></g>
<g stroke="#000" stroke-width="1.5" fill="none">
<rect x="1002.0" y="82.0" width="634.5" height="477.70000000000005"/>
<line x1="1002.0" y1="559.6" x2="1010.0" y2="559.6"/>
<line x1="1002.0" y1="514.9" x2="1006.0" y2="514.9"/>
<line x1="1002.0" y1="470.1" x2="1010.0" y2="470.1"/>
<line x1="1002.0" y1="425.4" x2="1006.0" y2="425.4"/>
<line x1="1002.0" y1="380.6" x2="1010.0" y2="380.6"/>
<line x1="1002.0" y1="335.9" x2="1006.0" y2="335.9"/>
<line x1="1002.0" y1="291.1" x2="1010.0" y2="291.1"/>
<line x1="1002.0" y1="246.4" x2="1006.0" y2="246.4"/>
<line x1="1002.0" y1="201.6" x2="1010.0" y2="201.6"/>
<line x1="1002.0" y1="156.9" x2="1006.0" y2="156.9"/>
<line x1="1002.0" y1="112.1" x2="1010.0" y2="112.1"/>
<line x1="1002.0" y1="559.7" x2="1002.0" y2="551.7"/>
<line x1="1092.7" y1="559.7" x2="1092.7" y2="555.7"/>
<line x1="1183.3" y1="559.7" x2="1183.3" y2="551.7"/>
<line x1="1274.0" y1="559.7" x2="1274.0" y2="555.7"/>
<line x1="1364.7" y1="559.7" x2="1364.7" y2="551.7"/>
<line x1="1455.3" y1="559.7" x2="1455.3" y2="555.7"/>
<line x1="1546.0" y1="559.7" x2="1546.0" y2="551.7"/>
<line x1="1636.7" y1="559.7" x2="1636.7" y2="555.7"/>
</g>
<g font-family="Liberation Sans, Arial, Helvetica, sans-serif" stroke="#000" stroke-width="0.7" stroke-linejoin="round" fill="#000">
<text transform="translate(981.8,482.5) scale(1,1.07)" font-size="32.5" text-anchor="end" >3.0x10</text>
<text transform="translate(982.5,465.6) scale(1,1.03)" font-size="20" text-anchor="start" >4</text>
<text transform="translate(981.8,393.0) scale(1,1.07)" font-size="32.5" text-anchor="end" >6.0x10</text>
<text transform="translate(982.5,376.1) scale(1,1.03)" font-size="20" text-anchor="start" >4</text>
<text transform="translate(981.8,303.5) scale(1,1.07)" font-size="32.5" text-anchor="end" >9.0x10</text>
<text transform="translate(982.5,286.6) scale(1,1.03)" font-size="20" text-anchor="start" >4</text>
<text transform="translate(981.8,214.0) scale(1,1.07)" font-size="32.5" text-anchor="end" >1.2x10</text>
<text transform="translate(982.5,197.1) scale(1,1.03)" font-size="20" text-anchor="start" >5</text>
<text transform="translate(981.8,124.5) scale(1,1.07)" font-size="32.5" text-anchor="end" >1.5x10</text>
<text transform="translate(982.5,107.6) scale(1,1.03)" font-size="20" text-anchor="start" >5</text>
<text transform="translate(992.3,566.4) scale(1,1.07)" font-size="32.5" text-anchor="end" >0.0</text>
<text transform="translate(1002.0,595.6) scale(1,1.07)" font-size="32.5" text-anchor="middle" >0</text>
<text transform="translate(1183.3,595.6) scale(1,1.07)" font-size="32.5" text-anchor="middle" >1000</text>
<text transform="translate(1364.7,595.6) scale(1,1.07)" font-size="32.5" text-anchor="middle" >2000</text>
<text transform="translate(1546.0,595.6) scale(1,1.07)" font-size="32.5" text-anchor="middle" >3000</text>
<text transform="translate(1319.7,635.3) scale(1,1.035)" font-size="32.8" text-anchor="middle" >Raman shift (1/cm)</text>
<text transform="translate(862.9,338.9) rotate(-90) scale(1,1.03)" font-size="32.7" text-anchor="middle">counts</text>
</g>
<line x1="1400.8" y1="119.8" x2="1461.2" y2="119.8" stroke="#000" stroke-width="3.1" stroke-linecap="round"/>
<g font-family="Liberation Sans, Arial, Helvetica, sans-serif" stroke="#000" stroke-width="0.7" stroke-linejoin="round"><text transform="translate(1469.6,131.8) scale(1,1.03)" font-size="21" text-anchor="start" >Chip@IgG</text></g>
<line x1="1400.8" y1="154.5" x2="1461.2" y2="154.5" stroke="#f00" stroke-width="3.1" stroke-linecap="round"/>
<g font-family="Liberation Sans, Arial, Helvetica, sans-serif" stroke="#000" stroke-width="0.7" stroke-linejoin="round"><text transform="translate(1469.6,166.5) scale(1,1.03)" font-size="21" text-anchor="start" >Chip@IgG+BSA</text></g>
<line x1="1400.8" y1="189.1" x2="1461.2" y2="189.1" stroke="#00f" stroke-width="3.1" stroke-linecap="round"/>
<g font-family="Liberation Sans, Arial, Helvetica, sans-serif" stroke="#000" stroke-width="0.7" stroke-linejoin="round"><text transform="translate(1469.6,201.1) scale(1,1.03)" font-size="21" text-anchor="start" >25 gauss</text></g>
<line x1="1400.8" y1="223.5" x2="1461.2" y2="223.5" stroke="#f0f" stroke-width="3.1" stroke-linecap="round"/>
<g font-family="Liberation Sans, Arial, Helvetica, sans-serif" stroke="#000" stroke-width="0.7" stroke-linejoin="round"><text transform="translate(1469.6,235.5) scale(1,1.03)" font-size="21" text-anchor="start" >37.5 gauss</text></g>
<line x1="1400.8" y1="258.8" x2="1461.2" y2="258.8" stroke="#008000" stroke-width="3.1" stroke-linecap="round"/>
<g font-family="Liberation Sans, Arial, Helvetica, sans-serif" stroke="#000" stroke-width="0.7" stroke-linejoin="round"><text transform="translate(1469.6,270.8) scale(1,1.03)" font-size="21" text-anchor="start" >50 gauss</text></g>
<line x1="1400.8" y1="293.5" x2="1461.2" y2="293.5" stroke="#000080" stroke-width="3.1" stroke-linecap="round"/>
<g font-family="Liberation Sans, Arial, Helvetica, sans-serif" stroke="#000" stroke-width="0.7" stroke-linejoin="round"><text transform="translate(1469.6,305.5) scale(1,1.03)" font-size="21" text-anchor="start" >62.5 gauss</text></g>
<g font-family="Liberation Serif, Times New Roman, serif" fill="#000" stroke="#000" stroke-width="0.6">
<text transform="translate(64.3,28.0) scale(1,1.0)" font-size="38.5" text-anchor="start" >(a)</text>
<text transform="translate(915.8,28.0) scale(1,1.0)" font-size="38.5" text-anchor="start" >(b)</text>
</g>
</svg></body></html>
